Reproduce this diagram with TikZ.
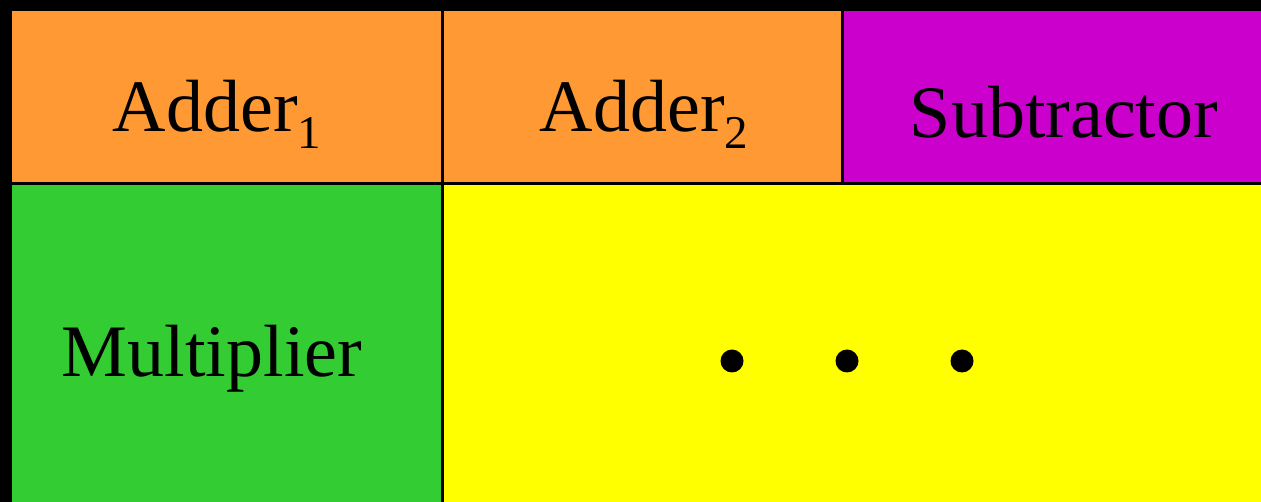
\documentclass[tikz,border=0pt]{standalone}
\usepackage{fontspec}
\setmainfont{Liberation Serif}
\usetikzlibrary{positioning}
\definecolor{unitorange}{RGB}{255,153,51}
\definecolor{unitmagenta}{RGB}{204,0,204}
\definecolor{unitgreen}{RGB}{51,204,51}
\definecolor{unityellow}{RGB}{255,255,0}
\newcommand{\unitidx}[1]{\raisebox{-17pt}{\fontsize{47}{47}\selectfont #1}}

\begin{document}
\begin{tikzpicture}[
  x=1pt,y=-1pt,
  cell/.style={rectangle,draw=black,line width=3pt,inner sep=0pt,outer sep=0pt,anchor=north west},
  lbl/.style={font=\fontsize{74}{80}\selectfont,anchor=base,inner sep=0pt},
  dot/.style={circle,fill=black,inner sep=0pt,minimum size=23pt}
]
\useasboundingbox (0,0) rectangle (1261,502);
\clip (0,0) rectangle (1261,502);
\fill[black] (0,0) rectangle (1261,502);
% top row
\node[cell,fill=unitorange,minimum width=432pt,minimum height=174pt] (add1) at (10,10) {};
\node[cell,fill=unitorange,minimum width=400pt,minimum height=174pt] (add2) at (add1.north east) {};
\node[cell,fill=unitmagenta,minimum width=450pt,minimum height=174pt] (sub) at (add2.north east) {};
% bottom row
\node[cell,fill=unitgreen,minimum width=432pt,minimum height=330pt] (mul) at (add1.south west) {};
\node[cell,fill=unityellow,minimum width=850pt,minimum height=330pt] (rest) at (mul.north east) {};
% labels
\node[lbl] (add1txt) at (217,132) {Adder\unitidx{1}};
\node[lbl] (add2txt) at (644,132) {Adder\unitidx{2}};
\node[lbl] (subtxt) at (1064,138) {Subtractor};
\node[lbl] (multxt) at (212,377) {Multiplier};
% dots
\node[dot] (d1) at (732,361) {};
\node[dot] (d2) at (847,361) {};
\node[dot] (d3) at (962,361) {};
\end{tikzpicture}
\end{document}
